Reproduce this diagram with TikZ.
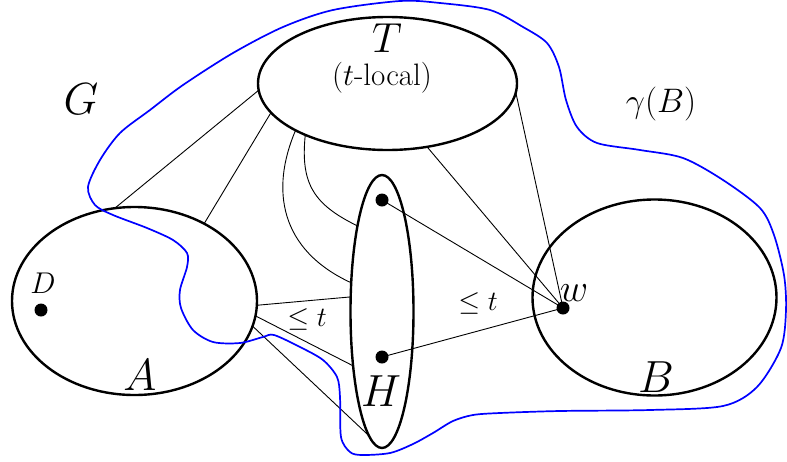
\RequirePackage{fix-cm}
\documentclass[tikz,border=0pt]{standalone}
\usetikzlibrary{shapes.geometric}
\begin{document}
\begin{tikzpicture}[x=1pt,y=-1pt,
  region/.style={draw, ellipse, line width=2.4pt, inner sep=0pt, outer sep=0pt},
  edge/.style={line width=0.9pt},
  dot/.style={circle, fill, inner sep=0pt, minimum size=13pt},
  biglab/.style={inner sep=0pt, font=\fontsize{45}{50}\selectfont},
  smalllab/.style={inner sep=0pt, font=\fontsize{28}{32}\selectfont},
  bluecurve/.style={draw=blue, line width=1.7pt}
]
\useasboundingbox (0,0) rectangle (787,461);

% regions
\node[region, minimum width=259pt, minimum height=133pt] (T) at (387.5,83.5) {};
\node[region, minimum width=245pt, minimum height=188pt] (A) at (134.5,301) {};
\node[region, minimum width=244pt, minimum height=196pt] (B) at (654.5,297.5) {};
\node[region, minimum width=63pt, minimum height=273pt] (H) at (382,311.5) {};

% dots
\node[dot] (D) at (41,310) {};
\node[dot] (h1) at (382,200) {};
\node[dot] (h2) at (382,357) {};
\node[dot] (w) at (563,308) {};

% labels
\node[inner sep=0pt, font=\fontsize{42}{46}\selectfont] (Tlab) at (387,38) {$T$};
\node[inner sep=0pt, font=\fontsize{31}{34}\selectfont] (Tloc) at (382,78) {($t$-local)};
\node[biglab] (Glab) at (81,99) {$G$};
\node[biglab] (Alab) at (140,375) {$A$};
\node[biglab] (Blab) at (656,377) {$B$};
\node[biglab] (Hlab) at (381,391) {$H$};
\node[inner sep=0pt, font=\fontsize{34}{38}\selectfont] (gB) at (661,104) {$\gamma(B)$};
\node[inner sep=0pt, font=\fontsize{30}{33}\selectfont] (Dlab) at (43,283) {$D$};
\node[inner sep=0pt, font=\fontsize{39}{42}\selectfont] (wlab) at (574,293) {$w$};
\node[smalllab] (le1) at (307,319) {$\leq t$};
\node[smalllab] (le2) at (478,303) {$\leq t$};

% edges
\draw[edge] (T.183.8) -- (A.102.6);
\draw[edge] (T.194) -- (A.48.3);
\draw[edge] (T.207.9) .. controls (270,190) and (280,250) .. (H.137.9);
\draw[edge] (T.212.3) .. controls (300,185) and (315,205) .. (H.106.5);
\draw[edge] (T.302) -- (w.center);
\draw[edge] (T.356.7) -- (w.center);
\draw[edge] (h1.center) -- (w.center);
\draw[edge] (h2.center) -- (w.center);
\draw[edge] (A.-2.3) -- (H.155.3);
\draw[edge] (A.-7.6) -- (H.242.4);
\draw[edge] (A.-12.4) -- (H.264.1);

% gamma(B) boundary
\draw[bluecurve] plot[smooth cycle, tension=0.5] coordinates {
  (400,1) (440,3) (490,10) (523,27) (547,43) (559,67) (566,100) (577,127)
  (597,143) (640,150) (683,158) (723,180) (760,208) (774,235) (784,275)
  (786,310) (781,348) (757,387) (723,406) (650,410) (560,411) (500,413)
  (473,415) (453,421) (433,433) (413,444) (390,453) (362,455) (350,452)
  (341,437) (340,397) (337,377) (323,360) (300,347) (274,335) (263,337)
  (240,343) (213,342) (193,330) (181,308) (180,290) (187,267) (187,253)
  (173,240) (147,228) (113,215) (95,205) (88,187) (100,160) (120,133)
  (150,110) (183,85) (233,53) (283,27) (333,10)
};
\end{tikzpicture}
\end{document}
